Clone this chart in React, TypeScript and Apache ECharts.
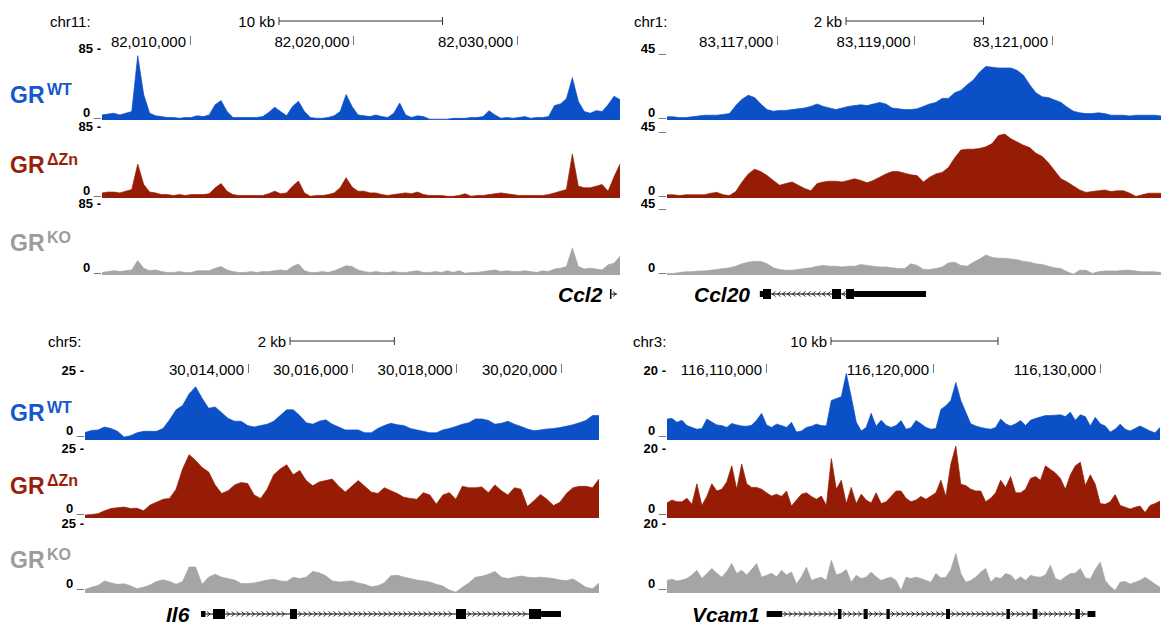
import { useEffect, useRef } from 'react';
import * as echarts from 'echarts';

const FONT = 'Arial, "Liberation Sans", Helvetica, sans-serif';

// ---------------- Ccl2 locus ----------------
const ccl2Chrom = 'chr11:';
const ccl2Region = [82004618, 82036300];
const ccl2Ticks = [82010000, 82020000, 82030000];
const ccl2ScaleBar = [82015443, 82025443];
const ccl2ScaleText = '10 kb';
const ccl2Max = 85;
const ccl2WT = [6,7,8,6,8,10,76,30,8,5, 4,3,3,2,3,3,5,4,6,18, 23,10,3,3,3,3,3,4,9,15, 10,5,16,22,10,3,2,2,3,5, 10,30,16,6,5,4,6,4,3,8, 20,6,3,5,4,1,1,1,1,2, 2,2,3,3,4,11,6,2,3,2, 3,4,2,3,3,4,17,19,25,50, 22,10,8,11,10,18,28,24];
const ccl2DZn = [6,7,7,6,8,10,40,16,7,6, 4,4,3,4,3,4,4,4,5,12, 17,8,4,3,3,3,3,3,5,8, 5,6,14,20,6,2,3,3,4,6, 12,24,13,8,8,6,6,4,3,4, 5,6,5,7,4,3,3,3,2,2, 3,5,2,3,3,4,5,6,5,4, 3,3,3,3,3,4,6,8,10,52, 14,12,12,14,16,8,25,40];
const ccl2KO = [3,4,5,4,5,6,17,8,5,6, 4,3,3,4,3,3,5,5,5,8, 10,6,4,3,3,4,3,4,4,5, 6,5,10,13,5,3,3,4,3,5, 8,11,10,6,4,3,4,3,3,4, 3,3,4,5,3,3,4,3,5,3, 5,2,3,3,4,5,6,4,5,4, 4,5,4,3,5,4,7,8,10,32, 10,7,8,7,6,12,14,22];
// [start, end, kind] kind: 0 intron, 1 coding exon, 2 UTR
const ccl2Gene = [[82035687, 82035780, 1], [82035780, 82036115, 0]];

// ---------------- Ccl20 locus ----------------
const ccl20Chrom = 'chr1:';
const ccl20Region = [83115400, 83122585];
const ccl20Ticks = [83117000, 83119000, 83121000];
const ccl20ScaleBar = [83118004, 83120004];
const ccl20ScaleText = '2 kb';
const ccl20Max = 45;
const ccl20WT = [2,2,1.5,1.5,2,2.5,3,3,3,3.5, 4,9,13,15.5,14,10,6.5,5.5,6,6, 6.5,7,7.5,8.5,10,8.5,7.5,6.5,7.5,8.5, 9,9.5,9,10,11,10,7.5,7,6.5,6.5, 7,8.5,10,11,13.5,13.5,17,18.5,22,25, 30,33.5,33,32.5,32.5,32.5,31,28,22,17, 14.5,14,12.5,11,8,5.5,4.5,4,4,4.5, 4,3,3,3,2.5,3,3,3,3,2.5];
const ccl20DZn = [2,2,1.5,2,2,2,2,3,3.5,2, 1.5,4,10,15,18,16.5,14,11,8,9, 10,8,6,4.5,9,10,10.5,10.5,10,11, 12,11,9.5,11,13,15,16.5,16.5,15.5,14.5, 14,10,13,15,16,19,25,30,30.5,30.5, 31,32,34,39,40,37,35,33,31.5,28, 26,22,17,12,10,7.5,5,3.5,4,4.5, 5,4,4.5,4.5,3,1,2,3,3,3];
const ccl20KO = [1,1,1.5,2,2,2.5,2.5,3,3.5,4, 4.5,5.5,7,8,8.5,8.5,7,4.5,3.5,3, 3,3.5,4,4.5,5.5,6,5.5,5.5,5,5.5, 5.5,6.5,6,5.5,5,5,4.5,4,4,7, 6,3.5,3.5,4,5,7.5,8,6,5.5,8, 10,12.5,11,10.5,10.5,10,9.5,8.5,8,7, 6.5,5.5,4.5,4,2,0.5,3,3,1,2, 2.5,2.5,2.5,3,3,2.5,2,2,2,1.5];
const ccl20Gene = [[83116750, 83116796, 2], [83116796, 83116913, 1], [83116913, 83117800, 0], [83117800, 83117931, 1], [83117931, 83118004, 0], [83118004, 83118120, 1], [83118120, 83119167, 2]];

// ---------------- Il6 locus ----------------
const il6Chrom = 'chr5:';
const il6Region = [30010875, 30020728];
const il6Ticks = [30014000, 30016000, 30018000, 30020000];
const il6ScaleBar = [30014805, 30016805];
const il6ScaleText = '2 kb';
const il6Max = 25;
const il6WT = [2.6,3.3,3.5,4.5,4,3,1,1.5,2.5,3, 3,3,4,7,10.5,12,16,18.5,14.5,11, 11.5,9.5,7.5,6.5,6.5,5,4.5,5,5.5,6.5, 8.5,10.5,10.5,8.5,6,5.5,6.5,7,5.5,4.5, 3.5,3.5,3.5,2.5,2.5,4,5,5.8,5.3,5, 4,3.5,3,2.5,2.5,3.5,4,4.7,5.5,6, 7.3,7.3,6.8,5.5,5.8,6.5,5.5,4.7,3.8,3.2, 3.5,3.8,4,4.3,4.8,5.3,6,6.8,8.5,8.5];
const il6DZn = [1,1.2,1.5,2.5,3.3,3.6,3.8,3.3,3.4,2.5, 4.5,5.5,6.5,6.8,10,17,22,20,17.5,16, 11.5,8.5,9.5,11.5,12.3,12,8,6.8,10,15, 17,18.5,15,16.5,13,11.2,12.5,13,13.5,11, 9,11,13,11,9,8.5,10.5,9.5,8.5,7.2, 6.8,6.5,8.8,8,4.8,8,8.8,6.5,11,10.5, 10.5,10.8,8.8,11.5,9.5,8,10.5,10,4,6, 8.2,6.5,4.3,5.5,8.5,10.5,11,11,10.5,13.5];
const il6KO = [1.2,2,2.6,4.2,3.5,3,3.2,2.5,1.5,2, 2.8,4,4.6,4,3,4,9,9,3,5.5, 6.5,5.5,5,4.5,3.3,3.3,3.5,4,4.5,4.8, 4.2,4,5.5,5,5.5,7.5,7,6,4.2,3.8, 4,4.2,3.5,3,2.2,2.5,3.5,6,6.2,5.5, 5,4.5,4.2,3.8,3,2.4,1,0.3,2,3.5, 5.5,5.8,6.5,7.5,5.5,5,5.5,5.9,5.5,5.3, 5.5,5.3,5,4.5,4.3,4.9,3.5,2,1.5,3.5];
const il6Gene = [[30013099, 30013185, 2], [30013185, 30013329, 0], [30013329, 30013559, 1], [30013559, 30014805, 0], [30014805, 30014939, 1], [30014939, 30017987, 0], [30017987, 30018179, 1], [30018179, 30019386, 0], [30019386, 30019617, 1], [30019617, 30020000, 2]];

// ---------------- Vcam1 locus ----------------
const vcamChrom = 'chr3:';
const vcamRegion = [116104072, 116133593];
const vcamTicks = [116110000, 116120000, 116130000];
const vcamScaleBar = [116113892, 116123892];
const vcamScaleText = '10 kb';
const vcamMax = 20;
const vcamWT = [5.8,6,4.9,5.5,4,3.5,3,3.2,5.8,5, 4.2,4,3.5,4.6,4.2,3.9,3.8,4.1,5.5,7.4, 4.2,3.5,4.4,4,3.5,4.9,2.2,2.5,3.5,3.8, 4.4,4,3.9,11,11.5,12,18.5,12,5,2.5, 3.5,7.4,3.8,5.5,4,3.5,4,5.4,3,3.4, 5.4,4.5,3.5,3,3.2,8.5,9.5,11,16,11, 7.7,4.5,3.9,3.5,3.2,3,3.5,5.8,4.5,3.9, 4.5,5.4,4,5.5,6,6.4,6.8,6.8,6.9,7, 6.5,7.7,5.5,7,6.5,3.9,6.3,4.5,3.9,2.2, 3,4.4,3,2.5,3.2,3.9,3.2,2.5,2,3.5];
const vcamDZn = [4.2,5,4.5,4.5,5.5,3.8,9.5,3.5,6,9.5, 7.5,8,10,14.5,8,15,9.5,8.5,8.5,8, 7,6.1,6.6,6,7.5,3.3,5,6.6,7,6, 5.2,6.1,3.5,16.5,8,10.5,4,8.5,4,6.6, 5,4.2,7,4,4.5,6,7.5,7.5,5.5,4.5, 5,6,5.2,6.1,7,10.5,6,15,20,9.4, 9,8,7.5,7.5,4.5,5.5,7,10.5,8.5,11.5, 7,7,8,11,11.5,10.5,14.5,13.5,12.5,11, 8,12,14.5,15.5,9,12,9.4,4,3.8,4.5, 6.5,3.5,3,2.5,3,3.3,1.5,3.5,4,4.7];
const vcamKO = [3.5,3.8,3.3,3.6,4,5,6.3,4,5.4,6.8, 5.5,4.4,6,8.2,5.4,6.3,5,6.5,8.2,4.4, 4.9,5.5,4.5,6.3,5,5.8,2.5,4.5,7.2,3.5, 4,4.4,3.5,9.1,5,5.5,6.5,3,4.9,4, 4.4,5.8,4.5,3.5,4,4.4,3.5,0.7,4.4,4, 4.4,4,3.5,3,5.4,4.2,4.4,6.5,11,5.4, 3,3.5,4.4,5.8,6.8,3,4.4,4,5.4,5, 3.5,4.5,3.5,4.9,4.5,4.4,5,7.7,4,3.5, 4.5,5.4,5.5,6.8,4.2,3.9,6.5,8.6,3.5,1.8, 0.7,3,3.2,2.5,3,3.5,4.4,3.5,2.5,1.6];
const vcamGene = [[116110036, 116110970, 2], [116110970, 116114311, 0], [116114311, 116114521, 1], [116114521, 116115844, 0], [116115844, 116116090, 1], [116116090, 116117210, 0], [116117210, 116117413, 1], [116117413, 116120779, 0], [116120779, 116121018, 1], [116121018, 116124395, 0], [116124395, 116124605, 1], [116124605, 116125964, 0], [116125964, 116126258, 1], [116126258, 116128527, 0], [116128527, 116128797, 1], [116128797, 116129252, 0], [116129252, 116129725, 2]];

const trackSup = ['WT', '\u0394Zn', 'KO'];
const trackColors = ['#0b50c6', '#971c05', '#a5a5a5'];
const labelColors = ['#1557cc', '#9a1e0a', '#9c9c9c'];

// ---------------- layout ----------------
const ROWS = [
  { tops: [48, 126, 203], h: 72, rulerBottom: 45, barOffset: 24, chrY: 21, geneY: 294, grY: [95, 165, 243], zeroPad: 16, topPad: 0 },
  { tops: [368, 446, 521], h: 72, rulerBottom: 373, barOffset: 32, chrY: 341, geneY: 614, grY: [413, 486, 560], zeroPad: 20, topPad: 4 },
];

const PANELS = [
  { gene: 'Ccl2', chrom: ccl2Chrom, region: ccl2Region, ticks: ccl2Ticks, bar: ccl2ScaleBar, barText: ccl2ScaleText, max: ccl2Max, tracks: [ccl2WT, ccl2DZn, ccl2KO], model: ccl2Gene, strand: 1, row: 0, left: 102, width: 518, chromX: 50, geneX: 558, topMark: '-' },
  { gene: 'Ccl20', chrom: ccl20Chrom, region: ccl20Region, ticks: ccl20Ticks, bar: ccl20ScaleBar, barText: ccl20ScaleText, max: ccl20Max, tracks: [ccl20WT, ccl20DZn, ccl20KO], model: ccl20Gene, strand: -1, row: 0, left: 667, width: 494, chromX: 634, geneX: 694, topMark: '_' },
  { gene: 'Il6', chrom: il6Chrom, region: il6Region, ticks: il6Ticks, bar: il6ScaleBar, barText: il6ScaleText, max: il6Max, tracks: [il6WT, il6DZn, il6KO], model: il6Gene, strand: 1, row: 1, left: 85, width: 514, chromX: 48, geneX: 166, topMark: '-' },
  { gene: 'Vcam1', chrom: vcamChrom, region: vcamRegion, ticks: vcamTicks, bar: vcamScaleBar, barText: vcamScaleText, max: vcamMax, tracks: [vcamWT, vcamDZn, vcamKO], model: vcamGene, strand: 1, row: 1, left: 667, width: 493, chromX: 633, geneX: 692, topMark: '-' },
];

const fmt = (v: number) => Math.round(v).toString().replace(/\B(?=(\d{3})+(?!\d))/g, ',');

function buildOption() {
  const grid: any[] = [];
  const xAxis: any[] = [];
  const yAxis: any[] = [];
  const series: any[] = [];
  const graphic: any[] = [];
  let gi = 0;

  PANELS.forEach((p) => {
    const row = ROWS[p.row];
    // signal tracks
    p.tracks.forEach((vals, t) => {
      grid.push({ left: p.left, top: row.tops[t], width: p.width, height: row.h });
      xAxis.push({ gridIndex: gi, type: 'category', boundaryGap: false, data: vals.map((_, i) => i), show: false });
      yAxis.push({
        gridIndex: gi, type: 'value', min: 0, max: p.max, interval: p.max,
        axisLine: { show: false }, axisTick: { show: false }, splitLine: { show: false },
        axisLabel: {
          margin: 1,
          formatter: (v: number) => (v === 0 ? '{z|0 _}' : `{t|${p.max} ${p.topMark}}`),
          rich: {
            z: { fontFamily: FONT, fontWeight: 'bold', fontSize: 13, color: '#000', padding: [0, 0, row.zeroPad, 0] },
            t: { fontFamily: FONT, fontWeight: 'bold', fontSize: 13, color: '#000', padding: [row.topPad, 0, 0, 0] },
          },
        },
      });
      series.push({
        type: 'line', xAxisIndex: gi, yAxisIndex: gi, data: vals, symbol: 'none', silent: true,
        lineStyle: { width: 0.7, color: trackColors[t] },
        areaStyle: { color: trackColors[t], opacity: 1 },
      });
      gi++;
    });

    // ruler with coordinate ticks and scale bar
    grid.push({ left: p.left, top: row.rulerBottom - 30, width: p.width, height: 30 });
    xAxis.push({
      gridIndex: gi, type: 'value', min: p.region[0], max: p.region[1], position: 'bottom',
      axisLine: { show: false }, splitLine: { show: false },
      axisTick: { show: true, inside: true, length: 9, customValues: p.ticks, lineStyle: { color: '#777', width: 1 } },
      axisLabel: {
        show: true, inside: true, customValues: p.ticks, margin: 4, align: 'right', verticalAlign: 'middle',
        padding: [0, 4, 0, 0], formatter: (v: number) => fmt(v), fontFamily: FONT, fontSize: 15, color: '#000',
      },
    });
    yAxis.push({ gridIndex: gi, type: 'value', min: 0, max: 1, show: false });
    const barOffset = row.barOffset;
    const barText = p.barText;
    series.push({
      type: 'custom', xAxisIndex: gi, yAxisIndex: gi, silent: true,
      data: [[p.bar[0], p.bar[1], 0]], encode: { x: [0, 1], y: 2 },
      renderItem: (params: any, api: any) => {
        const a = api.coord([api.value(0), 0]);
        const b = api.coord([api.value(1), 0]);
        const y = a[1] - barOffset;
        const st = { stroke: '#333', lineWidth: 1 };
        return {
          type: 'group',
          children: [
            { type: 'line', shape: { x1: a[0], y1: y, x2: b[0], y2: y }, style: st },
            { type: 'line', shape: { x1: a[0], y1: y - 4, x2: a[0], y2: y + 4 }, style: st },
            { type: 'line', shape: { x1: b[0], y1: y - 4, x2: b[0], y2: y + 4 }, style: st },
            { type: 'text', x: a[0] - 4, y: y, style: { text: barText, align: 'right', verticalAlign: 'middle', fill: '#000', font: `15px ${FONT}` } },
          ],
        };
      },
    });
    gi++;

    // gene model
    grid.push({ left: p.left, top: row.geneY - 10, width: p.width, height: 20 });
    xAxis.push({ gridIndex: gi, type: 'value', min: p.region[0], max: p.region[1], show: false });
    yAxis.push({ gridIndex: gi, type: 'value', min: 0, max: 1, show: false });
    const dir = p.strand;
    series.push({
      type: 'custom', xAxisIndex: gi, yAxisIndex: gi, silent: true,
      data: p.model.map((f) => [f[0], f[1], f[2], 0.5]), encode: { x: [0, 1], y: 3 },
      renderItem: (params: any, api: any) => {
        const s = api.coord([api.value(0), 0.5]);
        const e = api.coord([api.value(1), 0.5]);
        const kind = api.value(2);
        const y = s[1];
        if (kind === 0) {
          const children: any[] = [{ type: 'line', shape: { x1: s[0], y1: y, x2: e[0], y2: y }, style: { stroke: '#000', lineWidth: 1 } }];
          for (let x = s[0] + 3; x < e[0] - 2; x += 5) {
            children.push({ type: 'polyline', shape: { points: [[x - 1.5 * dir, y - 2.5], [x + 1.5 * dir, y], [x - 1.5 * dir, y + 2.5]] }, style: { stroke: '#000', lineWidth: 0.8, fill: 'none' } });
          }
          return { type: 'group', children };
        }
        const h = kind === 1 ? 10 : 6;
        return { type: 'rect', shape: { x: s[0], y: y - h / 2, width: Math.max(e[0] - s[0], 1.5), height: h }, style: { fill: '#000' } };
      },
    });
    gi++;

    // chromosome label and gene name
    graphic.push({ type: 'text', x: p.chromX, y: row.chrY, style: { text: p.chrom, font: `15px ${FONT}`, fill: '#000', verticalAlign: 'middle' } });
    graphic.push({ type: 'text', x: p.geneX, y: row.geneY, style: { text: p.gene, font: `italic bold 21px ${FONT}`, fill: '#000', verticalAlign: 'middle' } });
  });

  // track labels (left column)
  ROWS.forEach((row) => {
    row.grY.forEach((y, t) => {
      graphic.push({ type: 'text', x: 10, y, style: { text: 'GR', font: `bold 23px ${FONT}`, fill: labelColors[t], verticalAlign: 'middle' } });
      graphic.push({ type: 'text', x: 47, y: y - 6, style: { text: trackSup[t], font: `bold 16px ${FONT}`, fill: labelColors[t], verticalAlign: 'middle' } });
    });
  });

  return { animation: false, backgroundColor: '#fff', grid, xAxis, yAxis, series, graphic };
}

export default function App() {
  const ref = useRef<HTMLDivElement>(null);
  useEffect(() => {
    if (!ref.current) return;
    const chart = echarts.init(ref.current, null, { renderer: 'svg' });
    chart.setOption(buildOption() as any);
    return () => chart.dispose();
  }, []);
  return <div ref={ref} style={{ position: 'fixed', left: 0, top: 0, width: 1161, height: 625, background: '#fff' }} />;
}
